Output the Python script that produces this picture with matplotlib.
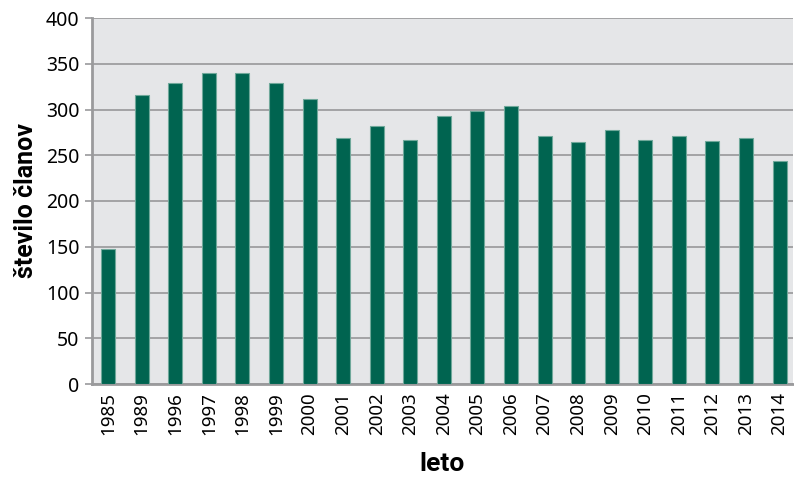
import matplotlib
matplotlib.use("Agg")
import matplotlib.pyplot as plt
import numpy as np

# data
years = ["1985", "1989", "1996", "1997", "1998", "1999", "2000", "2001", "2002", "2003",
         "2004", "2005", "2006", "2007", "2008", "2009", "2010", "2011", "2012", "2013", "2014"]
members = [148, 316, 329, 340, 340, 329, 312, 269, 282, 267,
           293, 298, 304, 271, 264, 278, 267, 271, 266, 269, 244]
y_ticks = [0, 50, 100, 150, 200, 250, 300, 350, 400]

plt.rcParams['font.family'] = ['Noto Sans', 'DejaVu Sans']
bold_font = ['Liberation Sans Narrow', 'Roboto', 'DejaVu Sans']

fig = plt.figure(figsize=(7.94, 4.87), dpi=100)
ax = fig.add_axes([92 / 794, 103 / 487, 701 / 794, 366 / 487])
ax.set_facecolor('#e5e6e8')

x = np.arange(len(years))
ax.bar(x, members, width=0.42, color='#006450', edgecolor='#6fa89a', linewidth=0.8, zorder=3)

ax.set_ylim(0, 400)
ax.set_xlim(-0.48, len(years) - 0.6)
ax.set_yticks(y_ticks)
ax.yaxis.grid(True, color='#a3a3a5', linewidth=1.4, zorder=0)
ax.set_xticks(x)
ax.set_xticklabels(years, rotation=90, fontsize=13.5)
ax.tick_params(axis='x', length=0, pad=6)
ax.tick_params(axis='y', labelsize=14, length=5, color='#9a9a9c', width=1.2, pad=4)

for side in ['top', 'right']:
    ax.spines[side].set_visible(False)
for side in ['left', 'bottom']:
    ax.spines[side].set_color('#9a9a9c')
    ax.spines[side].set_linewidth(2)

ax.set_ylabel('število članov', fontsize=18, fontweight='bold', family=bold_font, labelpad=6)
ax.set_xlabel('leto', fontsize=19, fontweight='bold', family=bold_font, labelpad=12)

fig.savefig('out.png', dpi=100)
